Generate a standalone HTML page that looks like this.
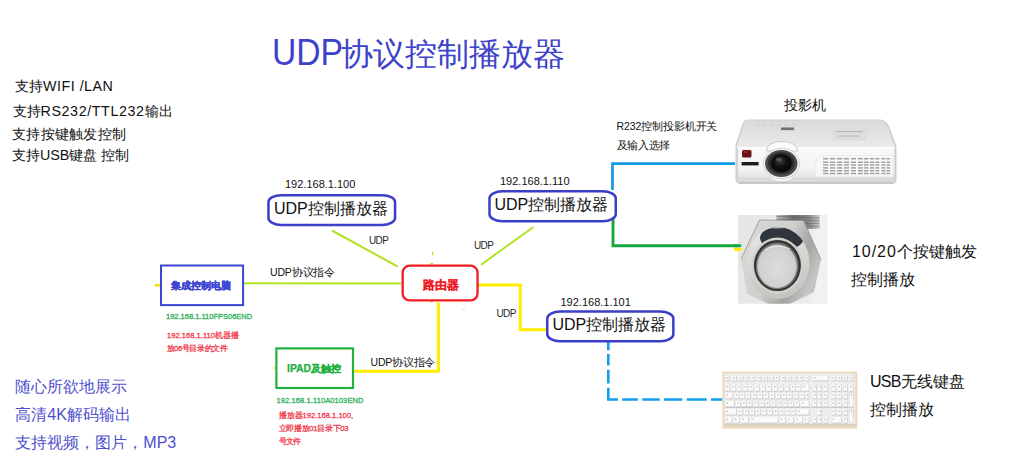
<!DOCTYPE html>
<html><head><meta charset="utf-8">
<style>
*{margin:0;padding:0;box-sizing:border-box}
html,body{width:1024px;height:459px;overflow:hidden;background:#fff}
body{position:relative;font-family:"Liberation Sans",sans-serif;color:#111}
.t{position:absolute;white-space:nowrap;line-height:1}
svg{position:absolute;left:0;top:0}
.sm{-webkit-text-stroke:0.3px currentColor}
</style></head><body>
<svg width="1024" height="459" viewBox="0 0 1024 459">
  <!-- connector lines -->
  <g fill="none" stroke-linecap="butt" stroke-linejoin="miter">
    <line x1="332" y1="230.5" x2="397.5" y2="266.5" stroke="#b0e322" stroke-width="2"/>
    <line x1="244" y1="283.2" x2="401" y2="283.6" stroke="#b0e322" stroke-width="2"/>
    <line x1="481" y1="264.7" x2="533.5" y2="227" stroke="#b0e322" stroke-width="2"/>
    <polyline points="478,285 520.3,285 520.3,329.7 547,329.7" stroke="#ffec00" stroke-width="3"/>
    <polyline points="354,371.2 438.4,371.2 438.4,302.5" stroke="#ffec00" stroke-width="3"/>
    <polyline points="612.5,190 612.5,163.6 735,163.6" stroke="#0f9be2" stroke-width="2.7"/>
    <polyline points="613,218 613,245.8 740,245.8" stroke="#16a83c" stroke-width="2.9"/>
    <path d="M608.3,342 V350.3 M608.3,354 V365.5 M608.3,369.8 V383.5 M608.3,387.7 V399.5 H618 M622.2,399.5 H637.9 M642.3,399.5 H659.7 M664,399.5 H682.3 M686.7,399.5 H706.7 M711,399.5 H722.5" stroke="#12a0ea" stroke-width="2.6"/>
  </g>
  <!-- small yellow ticks -->
  <rect x="155" y="284" width="5" height="2.6" fill="#f6e400"/>
  

  <!-- tiny connection dots -->
  <g fill="#b0e322">
    <rect x="432" y="251.8" width="1.3" height="3.4"/>
    <ellipse cx="431.8" cy="263.8" rx="1.5" ry="1.1"/>
    <ellipse cx="431.8" cy="301.8" rx="1.3" ry="0.9"/>
    <rect x="462.5" y="309" width="2.4" height="0.9" opacity="0.7"/>
    <ellipse cx="274.8" cy="368" rx="0.9" ry="1.1"/>
  </g>
  <!-- UDP boxes -->
  <rect x="268.45" y="195.15" width="126.6" height="29.8" rx="13" ry="7" fill="#fff" stroke="#3b3fc8" stroke-width="2.5"/>
  <rect x="489.5" y="191.35" width="126.25" height="29.8" rx="13" ry="7" fill="#fff" stroke="#3b3fc8" stroke-width="2.5"/>
  <rect x="547.25" y="311.5" width="126.1" height="29.75" rx="13" ry="7" fill="#fff" stroke="#3b3fc8" stroke-width="2.5"/>
  <!-- router -->
  <rect x="402.65" y="265.65" width="74.9" height="34.8" rx="7" ry="7" fill="#fff" stroke="#ee1c25" stroke-width="2.3"/>
  <!-- PC box -->
  <rect x="161" y="265.5" width="82.1" height="39.6" fill="#fff" stroke="#3c46d2" stroke-width="2"/>
  <!-- IPAD box -->
  <rect x="276.4" y="348.4" width="76.6" height="39.6" fill="#fff" stroke="#22b040" stroke-width="2.2"/>

  <!-- PROJECTOR -->
  <defs>
    <linearGradient id="pjTop" x1="0" y1="0" x2="0" y2="1">
      <stop offset="0" stop-color="#dadada"/><stop offset="0.5" stop-color="#e2e2e2"/><stop offset="1" stop-color="#ebebeb"/>
    </linearGradient>
    <linearGradient id="pjFront" x1="0" y1="0" x2="0" y2="1">
      <stop offset="0" stop-color="#fafafa"/><stop offset="0.7" stop-color="#f3f3f3"/><stop offset="1" stop-color="#e2e2e2"/>
    </linearGradient>
    <linearGradient id="pjSide" x1="0" y1="0" x2="1" y2="0">
      <stop offset="0" stop-color="#cfcfcf"/><stop offset="0.06" stop-color="#f2f2f2"/><stop offset="0.94" stop-color="#f2f2f2"/><stop offset="1" stop-color="#c8c8c8"/>
    </linearGradient>
    <radialGradient id="lensG" cx="0.45" cy="0.4" r="0.6">
      <stop offset="0" stop-color="#3a3a3a"/><stop offset="0.5" stop-color="#111"/><stop offset="1" stop-color="#050505"/>
    </radialGradient>
  </defs>
  <path d="M747,119.5 L880,119.5 Q886,120 889,126 L896.5,146 L896.5,181 Q896,184 892,184 L740,184 Q736,184 735.5,180 L735.5,145 L742,125 Q743.5,120 747,119.5 Z" fill="#d0d0d0"/>
  <path d="M748,120.5 L879,120.5 Q884.5,121 887.5,127 L895,147.5 L736.5,147.5 L743,126.5 Q744.5,121 748,120.5 Z" fill="url(#pjTop)"/>
  <rect x="736.5" y="147.5" width="159.5" height="31" fill="url(#pjSide)"/>
  <rect x="738" y="148" width="156.5" height="30" fill="url(#pjFront)" opacity="0.9"/>
  <rect x="737" y="147" width="158" height="1.3" fill="#fdfdfd"/>
  <rect x="737" y="177.5" width="158" height="5" fill="#dadada"/>
  <rect x="740" y="182" width="153" height="1.5" fill="#c4c4c4"/>
  <!-- top details -->
  <rect x="832.5" y="127" width="34" height="13.5" fill="#dedede"/>
  <rect x="836" y="131" width="27" height="1.2" fill="#b8b8b8"/>
  <rect x="838" y="135.5" width="22" height="1.2" fill="#bdbdbd"/>
  <rect x="781" y="127.5" width="13" height="2.6" fill="#555" opacity="0.8"/>
  <g fill="#c6c6c6"><circle cx="758" cy="125" r="0.9"/><circle cx="765" cy="125" r="0.9"/><circle cx="772" cy="125" r="0.9"/><circle cx="779" cy="125" r="0.9"/><circle cx="786" cy="125" r="0.9"/><circle cx="794" cy="125" r="0.9"/></g>
  <!-- lens collar -->
  <path d="M766,151 Q768,141.5 782,141.5 Q796,141.5 798,151 Z" fill="#fbfbfb" stroke="#bdbdbd" stroke-width="0.8"/>
  <path d="M769,176 Q772,181.5 782,181.5 Q792,181.5 794,176 Z" fill="#f6f6f6" stroke="#cfcfcf" stroke-width="0.6"/>
  <ellipse cx="781.5" cy="163.5" rx="18" ry="15.2" fill="#f4f4f4" stroke="#c8c8c8" stroke-width="0.8"/>
  <ellipse cx="781.3" cy="163.5" rx="16.2" ry="13.4" fill="#4a4a4a"/>
  <ellipse cx="781.3" cy="163.3" rx="13.3" ry="11" fill="#2c2c2c"/>
  <ellipse cx="781.3" cy="163.2" rx="10.5" ry="9.1" fill="url(#lensG)"/>
  <ellipse cx="779" cy="159.5" rx="3" ry="2" fill="#5a5a5a" opacity="0.8"/>
  <!-- red IR + label -->
  <rect x="742" y="150" width="9.5" height="7.5" rx="1.5" fill="#6c1212"/>
  <rect x="743.5" y="151" width="4" height="2" fill="#a03030" opacity="0.7"/>
  <rect x="741.6" y="162" width="17" height="3.4" fill="#1c1c1c"/>
  <!-- vent -->
  <path d="M815,177 L815,163 Q817,155.5 826,155.5 L893,155.5 L893,177 Z" fill="#f7f7f7" stroke="#e2e2e2" stroke-width="0.6"/>
  <g fill="#9c9c9c" id="vent">
    <rect x="823" y="158" width="5.3" height="1.4"/><rect x="830" y="158" width="5.3" height="1.4"/><rect x="837" y="158" width="5.3" height="1.4"/><rect x="844" y="158" width="5" height="1.4"/><rect x="851" y="158" width="5" height="1.4"/><rect x="858" y="158" width="4.8" height="1.4"/><rect x="864" y="158" width="4.5" height="1.4"/><rect x="870" y="158" width="4.3" height="1.4"/><rect x="875.5" y="158" width="3.8" height="1.4"/><rect x="881.5" y="158" width="3.8" height="1.4"/><rect x="886.5" y="158" width="3.6" height="1.4"/>
  </g>
  <use href="#vent" y="3.6"/>
  <use href="#vent" y="6.3"/>
  <use href="#vent" y="9.2"/>
  <use href="#vent" y="12"/>
  <use href="#vent" y="14.8"/>

  <!-- BUTTON -->
  <defs>
    <linearGradient id="btnBg" x1="0" y1="0" x2="1" y2="0">
      <stop offset="0" stop-color="#e6e6e6"/><stop offset="0.8" stop-color="#ebebeb"/><stop offset="0.88" stop-color="#f3f3f3"/><stop offset="1" stop-color="#efefef"/>
    </linearGradient>
    <linearGradient id="nutG" x1="0" y1="0" x2="1" y2="0.5">
      <stop offset="0" stop-color="#b4b4b4"/><stop offset="0.2" stop-color="#d6d6d4"/><stop offset="0.55" stop-color="#cfcfcc"/><stop offset="0.8" stop-color="#a4a4a4"/><stop offset="1" stop-color="#c4c4c4"/>
    </linearGradient>
    <linearGradient id="bezG" x1="0" y1="0" x2="0.2" y2="1">
      <stop offset="0" stop-color="#e8e8e6"/><stop offset="0.5" stop-color="#d8d7d2"/><stop offset="1" stop-color="#c6c5c0"/>
    </linearGradient>
    <radialGradient id="faceG" cx="0.5" cy="0.55" r="0.6">
      <stop offset="0" stop-color="#dcdcdc"/><stop offset="0.7" stop-color="#d2d2d2"/><stop offset="1" stop-color="#bdbdbd"/>
    </radialGradient>
    <linearGradient id="thrG" x1="0" y1="0" x2="1" y2="0">
      <stop offset="0" stop-color="#c0c0c0"/><stop offset="0.4" stop-color="#6e6e6e"/><stop offset="0.75" stop-color="#8a8a8a"/><stop offset="1" stop-color="#d0d0d0"/>
    </linearGradient>
    <clipPath id="bezClip"><ellipse cx="778" cy="263" rx="31.5" ry="36"/></clipPath>
  </defs>
  <rect x="738" y="215" width="89.5" height="88.7" fill="url(#btnBg)"/>
  <rect x="776" y="215" width="44" height="14" fill="url(#thrG)"/>
  <g stroke="#555" stroke-width="0.7" opacity="0.7"><line x1="777" y1="216.5" x2="819" y2="218"/><line x1="777" y1="219.3" x2="819" y2="220.8"/><line x1="777" y1="222.1" x2="819" y2="223.6"/><line x1="777" y1="224.9" x2="819" y2="226.4"/></g>
  <path d="M759.5,220 L803.6,220.5 L821,259.5 L814,292 L790,303.7 L768,303.7 L747.3,294 L741,259 Z" fill="url(#nutG)"/>
  <path d="M741,259 L759.5,220 L803.6,220.5 L821,259.5" fill="none" stroke="#8c8c8c" stroke-width="0.7"/>
    <ellipse cx="778" cy="263" rx="31.5" ry="36" fill="url(#bezG)"/>
  <g clip-path="url(#bezClip)">
    <ellipse cx="782" cy="238" rx="22" ry="12" fill="#262a33" opacity="0.95"/>
    <ellipse cx="776" cy="226" rx="16" ry="2.5" fill="#f0f0f0" opacity="0.7"/>
  </g>
  <ellipse cx="777.4" cy="265.8" rx="26" ry="28.2" fill="#cfcfcc"/>
  <ellipse cx="777.4" cy="265.5" rx="23.5" ry="25.6" fill="#333"/>
  <ellipse cx="777.2" cy="265.9" rx="21.3" ry="23.3" fill="#777"/>
  <ellipse cx="777" cy="266.2" rx="19.8" ry="21.7" fill="url(#faceG)"/>
  <path d="M765,250 Q777,243 790,249" fill="none" stroke="#f4f4f4" stroke-width="1.2" opacity="0.8"/>
  <!-- KEYBOARD -->
  <rect x="722.4" y="371.6" width="134.9" height="57" fill="#ead9b9"/>
  <rect x="724.4" y="373.4" width="130.9" height="52.6" fill="#eeeeee"/>
  <rect x="724.4" y="424" width="130.9" height="2" fill="#d8d0c0"/>
  <rect x="725.4" y="375.6" width="4.1" height="5.9" fill="#d0d0d0"/>
  <rect x="725.4" y="375.6" width="3.3" height="4.7" fill="#fbfbfb"/>
  <rect x="732.1" y="375.6" width="4.9" height="5.9" fill="#d0d0d0"/>
  <rect x="732.1" y="375.6" width="4.1" height="4.7" fill="#fbfbfb"/>
  <rect x="738.7" y="375.6" width="4.9" height="5.9" fill="#d0d0d0"/>
  <rect x="738.7" y="375.6" width="4.1" height="4.7" fill="#fbfbfb"/>
  <rect x="744.7" y="375.6" width="4.4" height="5.9" fill="#d0d0d0"/>
  <rect x="744.7" y="375.6" width="3.6" height="4.7" fill="#fbfbfb"/>
  <rect x="750.9" y="375.6" width="4.6" height="5.9" fill="#d0d0d0"/>
  <rect x="750.9" y="375.6" width="3.8" height="4.7" fill="#fbfbfb"/>
  <rect x="756.8" y="375.6" width="4.6" height="5.9" fill="#d0d0d0"/>
  <rect x="756.8" y="375.6" width="3.8" height="4.7" fill="#fbfbfb"/>
  <rect x="762.7" y="375.6" width="5.0" height="5.9" fill="#d0d0d0"/>
  <rect x="762.7" y="375.6" width="4.2" height="4.7" fill="#fbfbfb"/>
  <rect x="768.7" y="375.6" width="5.0" height="5.9" fill="#d0d0d0"/>
  <rect x="768.7" y="375.6" width="4.2" height="4.7" fill="#fbfbfb"/>
  <rect x="774.6" y="375.6" width="5.0" height="5.9" fill="#d0d0d0"/>
  <rect x="774.6" y="375.6" width="4.2" height="4.7" fill="#fbfbfb"/>
  <rect x="781.0" y="375.6" width="4.6" height="5.9" fill="#d0d0d0"/>
  <rect x="781.0" y="375.6" width="3.8" height="4.7" fill="#fbfbfb"/>
  <rect x="786.9" y="375.6" width="4.6" height="5.9" fill="#d0d0d0"/>
  <rect x="786.9" y="375.6" width="3.8" height="4.7" fill="#fbfbfb"/>
  <rect x="792.8" y="375.6" width="4.6" height="5.9" fill="#d0d0d0"/>
  <rect x="792.8" y="375.6" width="3.8" height="4.7" fill="#fbfbfb"/>
  <rect x="798.7" y="375.6" width="4.6" height="5.9" fill="#d0d0d0"/>
  <rect x="798.7" y="375.6" width="3.8" height="4.7" fill="#fbfbfb"/>
  <rect x="804.7" y="375.6" width="4.9" height="5.9" fill="#d0d0d0"/>
  <rect x="804.7" y="375.6" width="4.1" height="4.7" fill="#fbfbfb"/>
  <rect x="812.8" y="375.6" width="15.7" height="5.9" fill="#d0d0d0"/>
  <rect x="812.8" y="375.6" width="14.9" height="4.7" fill="#fbfbfb"/>
  <rect x="831.3" y="375.6" width="4.9" height="5.9" fill="#d0d0d0"/>
  <rect x="831.3" y="375.6" width="4.1" height="4.7" fill="#fbfbfb"/>
  <rect x="837.3" y="375.6" width="4.6" height="5.9" fill="#d0d0d0"/>
  <rect x="837.3" y="375.6" width="3.8" height="4.7" fill="#fbfbfb"/>
  <rect x="843.2" y="375.6" width="4.6" height="5.9" fill="#d0d0d0"/>
  <rect x="843.2" y="375.6" width="3.8" height="4.7" fill="#fbfbfb"/>
  <rect x="849.1" y="375.6" width="4.6" height="5.9" fill="#d0d0d0"/>
  <rect x="849.1" y="375.6" width="3.8" height="4.7" fill="#fbfbfb"/>
  <rect x="725.4" y="384.5" width="4.9" height="7.4" fill="#d0d0d0"/>
  <rect x="725.4" y="384.5" width="4.1" height="6.2" fill="#fbfbfb"/>
  <rect x="731.3" y="384.5" width="4.9" height="7.4" fill="#d0d0d0"/>
  <rect x="731.3" y="384.5" width="4.1" height="6.2" fill="#fbfbfb"/>
  <rect x="737.3" y="384.5" width="4.9" height="7.4" fill="#d0d0d0"/>
  <rect x="737.3" y="384.5" width="4.1" height="6.2" fill="#fbfbfb"/>
  <rect x="743.2" y="384.5" width="4.9" height="7.4" fill="#d0d0d0"/>
  <rect x="743.2" y="384.5" width="4.1" height="6.2" fill="#fbfbfb"/>
  <rect x="749.1" y="384.5" width="4.9" height="7.4" fill="#d0d0d0"/>
  <rect x="749.1" y="384.5" width="4.1" height="6.2" fill="#fbfbfb"/>
  <rect x="755.0" y="384.5" width="4.9" height="7.4" fill="#d0d0d0"/>
  <rect x="755.0" y="384.5" width="4.1" height="6.2" fill="#fbfbfb"/>
  <rect x="761.0" y="384.5" width="4.9" height="7.4" fill="#d0d0d0"/>
  <rect x="761.0" y="384.5" width="4.1" height="6.2" fill="#fbfbfb"/>
  <rect x="766.9" y="384.5" width="4.9" height="7.4" fill="#d0d0d0"/>
  <rect x="766.9" y="384.5" width="4.1" height="6.2" fill="#fbfbfb"/>
  <rect x="772.8" y="384.5" width="4.9" height="7.4" fill="#d0d0d0"/>
  <rect x="772.8" y="384.5" width="4.1" height="6.2" fill="#fbfbfb"/>
  <rect x="778.7" y="384.5" width="4.9" height="7.4" fill="#d0d0d0"/>
  <rect x="778.7" y="384.5" width="4.1" height="6.2" fill="#fbfbfb"/>
  <rect x="784.7" y="384.5" width="4.9" height="7.4" fill="#d0d0d0"/>
  <rect x="784.7" y="384.5" width="4.1" height="6.2" fill="#fbfbfb"/>
  <rect x="790.6" y="384.5" width="4.9" height="7.4" fill="#d0d0d0"/>
  <rect x="790.6" y="384.5" width="4.1" height="6.2" fill="#fbfbfb"/>
  <rect x="796.5" y="384.5" width="4.9" height="7.4" fill="#d0d0d0"/>
  <rect x="796.5" y="384.5" width="4.1" height="6.2" fill="#fbfbfb"/>
  <rect x="802.4" y="384.5" width="7.1" height="7.4" fill="#d0d0d0"/>
  <rect x="802.4" y="384.5" width="6.3" height="6.2" fill="#fbfbfb"/>
  <rect x="812.8" y="384.5" width="4.1" height="7.4" fill="#d0d0d0"/>
  <rect x="812.8" y="384.5" width="3.3" height="6.2" fill="#fbfbfb"/>
  <rect x="818.0" y="384.5" width="4.1" height="7.4" fill="#d0d0d0"/>
  <rect x="818.0" y="384.5" width="3.3" height="6.2" fill="#fbfbfb"/>
  <rect x="823.2" y="384.5" width="4.9" height="7.4" fill="#d0d0d0"/>
  <rect x="823.2" y="384.5" width="4.1" height="6.2" fill="#fbfbfb"/>
  <rect x="831.3" y="384.5" width="4.9" height="7.4" fill="#d0d0d0"/>
  <rect x="831.3" y="384.5" width="4.1" height="6.2" fill="#fbfbfb"/>
  <rect x="837.3" y="384.5" width="4.6" height="7.4" fill="#d0d0d0"/>
  <rect x="837.3" y="384.5" width="3.8" height="6.2" fill="#fbfbfb"/>
  <rect x="843.2" y="384.5" width="4.6" height="7.4" fill="#d0d0d0"/>
  <rect x="843.2" y="384.5" width="3.8" height="6.2" fill="#fbfbfb"/>
  <rect x="849.1" y="384.5" width="4.6" height="7.4" fill="#d0d0d0"/>
  <rect x="849.1" y="384.5" width="3.8" height="6.2" fill="#fbfbfb"/>
  <rect x="725.4" y="392.7" width="7.8" height="6.7" fill="#d0d0d0"/>
  <rect x="725.4" y="392.7" width="7.0" height="5.5" fill="#fbfbfb"/>
  <rect x="734.3" y="392.7" width="4.9" height="6.7" fill="#d0d0d0"/>
  <rect x="734.3" y="392.7" width="4.1" height="5.5" fill="#fbfbfb"/>
  <rect x="740.2" y="392.7" width="4.9" height="6.7" fill="#d0d0d0"/>
  <rect x="740.2" y="392.7" width="4.1" height="5.5" fill="#fbfbfb"/>
  <rect x="746.1" y="392.7" width="4.9" height="6.7" fill="#d0d0d0"/>
  <rect x="746.1" y="392.7" width="4.1" height="5.5" fill="#fbfbfb"/>
  <rect x="752.1" y="392.7" width="4.9" height="6.7" fill="#d0d0d0"/>
  <rect x="752.1" y="392.7" width="4.1" height="5.5" fill="#fbfbfb"/>
  <rect x="758.0" y="392.7" width="4.9" height="6.7" fill="#d0d0d0"/>
  <rect x="758.0" y="392.7" width="4.1" height="5.5" fill="#fbfbfb"/>
  <rect x="763.9" y="392.7" width="4.9" height="6.7" fill="#d0d0d0"/>
  <rect x="763.9" y="392.7" width="4.1" height="5.5" fill="#fbfbfb"/>
  <rect x="769.9" y="392.7" width="4.9" height="6.7" fill="#d0d0d0"/>
  <rect x="769.9" y="392.7" width="4.1" height="5.5" fill="#fbfbfb"/>
  <rect x="775.8" y="392.7" width="4.9" height="6.7" fill="#d0d0d0"/>
  <rect x="775.8" y="392.7" width="4.1" height="5.5" fill="#fbfbfb"/>
  <rect x="781.7" y="392.7" width="4.9" height="6.7" fill="#d0d0d0"/>
  <rect x="781.7" y="392.7" width="4.1" height="5.5" fill="#fbfbfb"/>
  <rect x="787.6" y="392.7" width="4.9" height="6.7" fill="#d0d0d0"/>
  <rect x="787.6" y="392.7" width="4.1" height="5.5" fill="#fbfbfb"/>
  <rect x="793.6" y="392.7" width="4.9" height="6.7" fill="#d0d0d0"/>
  <rect x="793.6" y="392.7" width="4.1" height="5.5" fill="#fbfbfb"/>
  <rect x="799.5" y="392.7" width="4.9" height="6.7" fill="#d0d0d0"/>
  <rect x="799.5" y="392.7" width="4.1" height="5.5" fill="#fbfbfb"/>
  <rect x="805.4" y="392.7" width="4.1" height="6.7" fill="#d0d0d0"/>
  <rect x="805.4" y="392.7" width="3.3" height="5.5" fill="#fbfbfb"/>
  <rect x="812.8" y="392.7" width="4.1" height="6.7" fill="#d0d0d0"/>
  <rect x="812.8" y="392.7" width="3.3" height="5.5" fill="#fbfbfb"/>
  <rect x="818.0" y="392.7" width="4.1" height="6.7" fill="#d0d0d0"/>
  <rect x="818.0" y="392.7" width="3.3" height="5.5" fill="#fbfbfb"/>
  <rect x="823.2" y="392.7" width="4.9" height="6.7" fill="#d0d0d0"/>
  <rect x="823.2" y="392.7" width="4.1" height="5.5" fill="#fbfbfb"/>
  <rect x="831.3" y="392.7" width="4.9" height="6.7" fill="#d0d0d0"/>
  <rect x="831.3" y="392.7" width="4.1" height="5.5" fill="#fbfbfb"/>
  <rect x="837.3" y="392.7" width="4.6" height="6.7" fill="#d0d0d0"/>
  <rect x="837.3" y="392.7" width="3.8" height="5.5" fill="#fbfbfb"/>
  <rect x="843.2" y="392.7" width="4.6" height="6.7" fill="#d0d0d0"/>
  <rect x="843.2" y="392.7" width="3.8" height="5.5" fill="#fbfbfb"/>
  <rect x="849.1" y="392.7" width="4.6" height="6.7" fill="#d0d0d0"/>
  <rect x="849.1" y="392.7" width="3.8" height="5.5" fill="#fbfbfb"/>
  <rect x="725.4" y="400.8" width="9.3" height="6.7" fill="#d0d0d0"/>
  <rect x="725.4" y="400.8" width="8.5" height="5.5" fill="#fbfbfb"/>
  <rect x="735.8" y="400.8" width="4.9" height="6.7" fill="#d0d0d0"/>
  <rect x="735.8" y="400.8" width="4.1" height="5.5" fill="#fbfbfb"/>
  <rect x="741.7" y="400.8" width="4.9" height="6.7" fill="#d0d0d0"/>
  <rect x="741.7" y="400.8" width="4.1" height="5.5" fill="#fbfbfb"/>
  <rect x="747.6" y="400.8" width="4.9" height="6.7" fill="#d0d0d0"/>
  <rect x="747.6" y="400.8" width="4.1" height="5.5" fill="#fbfbfb"/>
  <rect x="753.6" y="400.8" width="4.9" height="6.7" fill="#d0d0d0"/>
  <rect x="753.6" y="400.8" width="4.1" height="5.5" fill="#fbfbfb"/>
  <rect x="759.5" y="400.8" width="4.9" height="6.7" fill="#d0d0d0"/>
  <rect x="759.5" y="400.8" width="4.1" height="5.5" fill="#fbfbfb"/>
  <rect x="765.4" y="400.8" width="4.9" height="6.7" fill="#d0d0d0"/>
  <rect x="765.4" y="400.8" width="4.1" height="5.5" fill="#fbfbfb"/>
  <rect x="771.3" y="400.8" width="4.9" height="6.7" fill="#d0d0d0"/>
  <rect x="771.3" y="400.8" width="4.1" height="5.5" fill="#fbfbfb"/>
  <rect x="777.3" y="400.8" width="4.9" height="6.7" fill="#d0d0d0"/>
  <rect x="777.3" y="400.8" width="4.1" height="5.5" fill="#fbfbfb"/>
  <rect x="783.2" y="400.8" width="4.9" height="6.7" fill="#d0d0d0"/>
  <rect x="783.2" y="400.8" width="4.1" height="5.5" fill="#fbfbfb"/>
  <rect x="789.1" y="400.8" width="4.9" height="6.7" fill="#d0d0d0"/>
  <rect x="789.1" y="400.8" width="4.1" height="5.5" fill="#fbfbfb"/>
  <rect x="795.0" y="400.8" width="4.9" height="6.7" fill="#d0d0d0"/>
  <rect x="795.0" y="400.8" width="4.1" height="5.5" fill="#fbfbfb"/>
  <rect x="801.0" y="400.8" width="8.6" height="6.7" fill="#d0d0d0"/>
  <rect x="801.0" y="400.8" width="7.8" height="5.5" fill="#fbfbfb"/>
  <rect x="812.8" y="400.8" width="4.1" height="6.7" fill="#d0d0d0"/>
  <rect x="812.8" y="400.8" width="3.3" height="5.5" fill="#fbfbfb"/>
  <rect x="818.0" y="400.8" width="4.1" height="6.7" fill="#d0d0d0"/>
  <rect x="818.0" y="400.8" width="3.3" height="5.5" fill="#fbfbfb"/>
  <rect x="823.2" y="400.8" width="4.9" height="6.7" fill="#d0d0d0"/>
  <rect x="823.2" y="400.8" width="4.1" height="5.5" fill="#fbfbfb"/>
  <rect x="831.3" y="400.8" width="4.9" height="6.7" fill="#d0d0d0"/>
  <rect x="831.3" y="400.8" width="4.1" height="5.5" fill="#fbfbfb"/>
  <rect x="837.3" y="400.8" width="4.6" height="6.7" fill="#d0d0d0"/>
  <rect x="837.3" y="400.8" width="3.8" height="5.5" fill="#fbfbfb"/>
  <rect x="843.2" y="400.8" width="4.6" height="6.7" fill="#d0d0d0"/>
  <rect x="843.2" y="400.8" width="3.8" height="5.5" fill="#fbfbfb"/>
  <rect x="725.4" y="409.0" width="11.6" height="6.7" fill="#d0d0d0"/>
  <rect x="725.4" y="409.0" width="10.8" height="5.5" fill="#fbfbfb"/>
  <rect x="738.0" y="409.0" width="4.9" height="6.7" fill="#d0d0d0"/>
  <rect x="738.0" y="409.0" width="4.1" height="5.5" fill="#fbfbfb"/>
  <rect x="743.9" y="409.0" width="4.9" height="6.7" fill="#d0d0d0"/>
  <rect x="743.9" y="409.0" width="4.1" height="5.5" fill="#fbfbfb"/>
  <rect x="749.9" y="409.0" width="4.9" height="6.7" fill="#d0d0d0"/>
  <rect x="749.9" y="409.0" width="4.1" height="5.5" fill="#fbfbfb"/>
  <rect x="755.8" y="409.0" width="4.9" height="6.7" fill="#d0d0d0"/>
  <rect x="755.8" y="409.0" width="4.1" height="5.5" fill="#fbfbfb"/>
  <rect x="761.7" y="409.0" width="4.9" height="6.7" fill="#d0d0d0"/>
  <rect x="761.7" y="409.0" width="4.1" height="5.5" fill="#fbfbfb"/>
  <rect x="767.6" y="409.0" width="4.9" height="6.7" fill="#d0d0d0"/>
  <rect x="767.6" y="409.0" width="4.1" height="5.5" fill="#fbfbfb"/>
  <rect x="773.6" y="409.0" width="4.9" height="6.7" fill="#d0d0d0"/>
  <rect x="773.6" y="409.0" width="4.1" height="5.5" fill="#fbfbfb"/>
  <rect x="779.5" y="409.0" width="4.9" height="6.7" fill="#d0d0d0"/>
  <rect x="779.5" y="409.0" width="4.1" height="5.5" fill="#fbfbfb"/>
  <rect x="785.4" y="409.0" width="4.9" height="6.7" fill="#d0d0d0"/>
  <rect x="785.4" y="409.0" width="4.1" height="5.5" fill="#fbfbfb"/>
  <rect x="791.3" y="409.0" width="4.9" height="6.7" fill="#d0d0d0"/>
  <rect x="791.3" y="409.0" width="4.1" height="5.5" fill="#fbfbfb"/>
  <rect x="797.3" y="409.0" width="12.3" height="6.7" fill="#d0d0d0"/>
  <rect x="797.3" y="409.0" width="11.5" height="5.5" fill="#fbfbfb"/>
  <rect x="818.0" y="409.0" width="4.1" height="6.7" fill="#d0d0d0"/>
  <rect x="818.0" y="409.0" width="3.3" height="5.5" fill="#fbfbfb"/>
  <rect x="831.3" y="409.0" width="4.9" height="6.7" fill="#d0d0d0"/>
  <rect x="831.3" y="409.0" width="4.1" height="5.5" fill="#fbfbfb"/>
  <rect x="837.3" y="409.0" width="4.6" height="6.7" fill="#d0d0d0"/>
  <rect x="837.3" y="409.0" width="3.8" height="5.5" fill="#fbfbfb"/>
  <rect x="843.2" y="409.0" width="4.6" height="6.7" fill="#d0d0d0"/>
  <rect x="843.2" y="409.0" width="3.8" height="5.5" fill="#fbfbfb"/>
  <rect x="849.1" y="409.0" width="4.6" height="6.7" fill="#d0d0d0"/>
  <rect x="849.1" y="409.0" width="3.8" height="5.5" fill="#fbfbfb"/>
  <rect x="725.4" y="417.1" width="7.1" height="6.7" fill="#d0d0d0"/>
  <rect x="725.4" y="417.1" width="6.3" height="5.5" fill="#fbfbfb"/>
  <rect x="733.6" y="417.1" width="6.4" height="6.7" fill="#d0d0d0"/>
  <rect x="733.6" y="417.1" width="5.6" height="5.5" fill="#fbfbfb"/>
  <rect x="741.0" y="417.1" width="7.8" height="6.7" fill="#d0d0d0"/>
  <rect x="741.0" y="417.1" width="7.0" height="5.5" fill="#fbfbfb"/>
  <rect x="749.9" y="417.1" width="28.6" height="6.7" fill="#d0d0d0"/>
  <rect x="749.9" y="417.1" width="27.8" height="5.5" fill="#fbfbfb"/>
  <rect x="779.5" y="417.1" width="6.4" height="6.7" fill="#d0d0d0"/>
  <rect x="779.5" y="417.1" width="5.6" height="5.5" fill="#fbfbfb"/>
  <rect x="786.9" y="417.1" width="7.1" height="6.7" fill="#d0d0d0"/>
  <rect x="786.9" y="417.1" width="6.3" height="5.5" fill="#fbfbfb"/>
  <rect x="795.0" y="417.1" width="7.8" height="6.7" fill="#d0d0d0"/>
  <rect x="795.0" y="417.1" width="7.0" height="5.5" fill="#fbfbfb"/>
  <rect x="803.9" y="417.1" width="5.6" height="6.7" fill="#d0d0d0"/>
  <rect x="803.9" y="417.1" width="4.8" height="5.5" fill="#fbfbfb"/>
  <rect x="812.8" y="417.1" width="4.1" height="6.7" fill="#d0d0d0"/>
  <rect x="812.8" y="417.1" width="3.3" height="5.5" fill="#fbfbfb"/>
  <rect x="818.0" y="417.1" width="4.1" height="6.7" fill="#d0d0d0"/>
  <rect x="818.0" y="417.1" width="3.3" height="5.5" fill="#fbfbfb"/>
  <rect x="823.2" y="417.1" width="4.9" height="6.7" fill="#d0d0d0"/>
  <rect x="823.2" y="417.1" width="4.1" height="5.5" fill="#fbfbfb"/>
  <rect x="831.3" y="417.1" width="10.5" height="6.7" fill="#d0d0d0"/>
  <rect x="831.3" y="417.1" width="9.7" height="5.5" fill="#fbfbfb"/>
  <rect x="843.2" y="417.1" width="4.6" height="6.7" fill="#d0d0d0"/>
  <rect x="843.2" y="417.1" width="3.8" height="5.5" fill="#fbfbfb"/>
  <rect x="849.1" y="392.7" width="3.9" height="13.8" fill="#fbfbfb" stroke="#d0d0d0" stroke-width="0.5"/>
  <rect x="849.1" y="409.0" width="3.9" height="13.8" fill="#fbfbfb" stroke="#d0d0d0" stroke-width="0.5"/>
  <rect x="725.4" y="407.2" width="128.6" height="0.6" fill="#9a9a9a" opacity="0.6"/>

  <g><rect x="726.8" y="377.2" width="1.3" height="1.3" fill="#7a7a7a" opacity="0.55"/><rect x="733.5" y="377.2" width="1.3" height="1.3" fill="#7a7a7a" opacity="0.55"/><rect x="740.1" y="377.2" width="1.3" height="1.3" fill="#7a7a7a" opacity="0.55"/><rect x="746.1" y="377.2" width="1.3" height="1.3" fill="#7a7a7a" opacity="0.55"/><rect x="752.3" y="377.2" width="1.3" height="1.3" fill="#7a7a7a" opacity="0.55"/><rect x="758.2" y="377.2" width="1.3" height="1.3" fill="#7a7a7a" opacity="0.55"/><rect x="764.1" y="377.2" width="1.3" height="1.3" fill="#7a7a7a" opacity="0.55"/><rect x="770.1" y="377.2" width="1.3" height="1.3" fill="#7a7a7a" opacity="0.55"/><rect x="776.0" y="377.2" width="1.3" height="1.3" fill="#7a7a7a" opacity="0.55"/><rect x="782.4" y="377.2" width="1.3" height="1.3" fill="#7a7a7a" opacity="0.55"/><rect x="788.3" y="377.2" width="1.3" height="1.3" fill="#7a7a7a" opacity="0.55"/><rect x="794.2" y="377.2" width="1.3" height="1.3" fill="#7a7a7a" opacity="0.55"/><rect x="800.1" y="377.2" width="1.3" height="1.3" fill="#7a7a7a" opacity="0.55"/><rect x="806.1" y="377.2" width="1.3" height="1.3" fill="#7a7a7a" opacity="0.55"/><rect x="814.2" y="377.2" width="2.2" height="1" fill="#7a7a7a" opacity="0.5"/><rect x="832.7" y="377.2" width="1.3" height="1.3" fill="#7a7a7a" opacity="0.55"/><rect x="838.7" y="377.2" width="1.3" height="1.3" fill="#7a7a7a" opacity="0.55"/><rect x="844.6" y="377.2" width="1.3" height="1.3" fill="#7a7a7a" opacity="0.55"/><rect x="850.5" y="377.2" width="1.3" height="1.3" fill="#7a7a7a" opacity="0.55"/><rect x="726.8" y="386.1" width="1.3" height="1.3" fill="#7a7a7a" opacity="0.55"/><rect x="732.7" y="386.1" width="1.3" height="1.3" fill="#7a7a7a" opacity="0.55"/><rect x="738.7" y="386.1" width="1.3" height="1.3" fill="#7a7a7a" opacity="0.55"/><rect x="744.6" y="386.1" width="1.3" height="1.3" fill="#7a7a7a" opacity="0.55"/><rect x="750.5" y="386.1" width="1.3" height="1.3" fill="#7a7a7a" opacity="0.55"/><rect x="756.4" y="386.1" width="1.3" height="1.3" fill="#7a7a7a" opacity="0.55"/><rect x="762.4" y="386.1" width="1.3" height="1.3" fill="#7a7a7a" opacity="0.55"/><rect x="768.3" y="386.1" width="1.3" height="1.3" fill="#7a7a7a" opacity="0.55"/><rect x="774.2" y="386.1" width="1.3" height="1.3" fill="#7a7a7a" opacity="0.55"/><rect x="780.1" y="386.1" width="1.3" height="1.3" fill="#7a7a7a" opacity="0.55"/><rect x="786.1" y="386.1" width="1.3" height="1.3" fill="#7a7a7a" opacity="0.55"/><rect x="792.0" y="386.1" width="1.3" height="1.3" fill="#7a7a7a" opacity="0.55"/><rect x="797.9" y="386.1" width="1.3" height="1.3" fill="#7a7a7a" opacity="0.55"/><rect x="803.8" y="386.1" width="1.3" height="1.3" fill="#7a7a7a" opacity="0.55"/><rect x="814.2" y="386.1" width="1.3" height="1.3" fill="#7a7a7a" opacity="0.55"/><rect x="819.4" y="386.1" width="1.3" height="1.3" fill="#7a7a7a" opacity="0.55"/><rect x="824.6" y="386.1" width="1.3" height="1.3" fill="#7a7a7a" opacity="0.55"/><rect x="832.7" y="386.1" width="1.3" height="1.3" fill="#7a7a7a" opacity="0.55"/><rect x="838.7" y="386.1" width="1.3" height="1.3" fill="#7a7a7a" opacity="0.55"/><rect x="844.6" y="386.1" width="1.3" height="1.3" fill="#7a7a7a" opacity="0.55"/><rect x="850.5" y="386.1" width="1.3" height="1.3" fill="#7a7a7a" opacity="0.55"/><rect x="726.8" y="394.3" width="1.3" height="1.3" fill="#7a7a7a" opacity="0.55"/><rect x="735.7" y="394.3" width="1.3" height="1.3" fill="#7a7a7a" opacity="0.55"/><rect x="741.6" y="394.3" width="1.3" height="1.3" fill="#7a7a7a" opacity="0.55"/><rect x="747.5" y="394.3" width="1.3" height="1.3" fill="#7a7a7a" opacity="0.55"/><rect x="753.5" y="394.3" width="1.3" height="1.3" fill="#7a7a7a" opacity="0.55"/><rect x="759.4" y="394.3" width="1.3" height="1.3" fill="#7a7a7a" opacity="0.55"/><rect x="765.3" y="394.3" width="1.3" height="1.3" fill="#7a7a7a" opacity="0.55"/><rect x="771.3" y="394.3" width="1.3" height="1.3" fill="#7a7a7a" opacity="0.55"/><rect x="777.2" y="394.3" width="1.3" height="1.3" fill="#7a7a7a" opacity="0.55"/><rect x="783.1" y="394.3" width="1.3" height="1.3" fill="#7a7a7a" opacity="0.55"/><rect x="789.0" y="394.3" width="1.3" height="1.3" fill="#7a7a7a" opacity="0.55"/><rect x="795.0" y="394.3" width="1.3" height="1.3" fill="#7a7a7a" opacity="0.55"/><rect x="800.9" y="394.3" width="1.3" height="1.3" fill="#7a7a7a" opacity="0.55"/><rect x="806.8" y="394.3" width="1.3" height="1.3" fill="#7a7a7a" opacity="0.55"/><rect x="814.2" y="394.3" width="1.3" height="1.3" fill="#7a7a7a" opacity="0.55"/><rect x="819.4" y="394.3" width="1.3" height="1.3" fill="#7a7a7a" opacity="0.55"/><rect x="824.6" y="394.3" width="1.3" height="1.3" fill="#7a7a7a" opacity="0.55"/><rect x="832.7" y="394.3" width="1.3" height="1.3" fill="#7a7a7a" opacity="0.55"/><rect x="838.7" y="394.3" width="1.3" height="1.3" fill="#7a7a7a" opacity="0.55"/><rect x="844.6" y="394.3" width="1.3" height="1.3" fill="#7a7a7a" opacity="0.55"/><rect x="850.5" y="394.3" width="1.3" height="1.3" fill="#7a7a7a" opacity="0.55"/><rect x="726.8" y="402.4" width="1.3" height="1.3" fill="#7a7a7a" opacity="0.55"/><rect x="737.2" y="402.4" width="1.3" height="1.3" fill="#7a7a7a" opacity="0.55"/><rect x="743.1" y="402.4" width="1.3" height="1.3" fill="#7a7a7a" opacity="0.55"/><rect x="749.0" y="402.4" width="1.3" height="1.3" fill="#7a7a7a" opacity="0.55"/><rect x="755.0" y="402.4" width="1.3" height="1.3" fill="#7a7a7a" opacity="0.55"/><rect x="760.9" y="402.4" width="1.3" height="1.3" fill="#7a7a7a" opacity="0.55"/><rect x="766.8" y="402.4" width="1.3" height="1.3" fill="#7a7a7a" opacity="0.55"/><rect x="772.7" y="402.4" width="1.3" height="1.3" fill="#7a7a7a" opacity="0.55"/><rect x="778.7" y="402.4" width="1.3" height="1.3" fill="#7a7a7a" opacity="0.55"/><rect x="784.6" y="402.4" width="1.3" height="1.3" fill="#7a7a7a" opacity="0.55"/><rect x="790.5" y="402.4" width="1.3" height="1.3" fill="#7a7a7a" opacity="0.55"/><rect x="796.4" y="402.4" width="1.3" height="1.3" fill="#7a7a7a" opacity="0.55"/><rect x="802.4" y="402.4" width="1.3" height="1.3" fill="#7a7a7a" opacity="0.55"/><rect x="814.2" y="402.4" width="1.3" height="1.3" fill="#7a7a7a" opacity="0.55"/><rect x="819.4" y="402.4" width="1.3" height="1.3" fill="#7a7a7a" opacity="0.55"/><rect x="824.6" y="402.4" width="1.3" height="1.3" fill="#7a7a7a" opacity="0.55"/><rect x="832.7" y="402.4" width="1.3" height="1.3" fill="#7a7a7a" opacity="0.55"/><rect x="838.7" y="402.4" width="1.3" height="1.3" fill="#7a7a7a" opacity="0.55"/><rect x="844.6" y="402.4" width="1.3" height="1.3" fill="#7a7a7a" opacity="0.55"/><rect x="726.8" y="410.6" width="1.3" height="1.3" fill="#7a7a7a" opacity="0.55"/><rect x="739.4" y="410.6" width="1.3" height="1.3" fill="#7a7a7a" opacity="0.55"/><rect x="745.3" y="410.6" width="1.3" height="1.3" fill="#7a7a7a" opacity="0.55"/><rect x="751.3" y="410.6" width="1.3" height="1.3" fill="#7a7a7a" opacity="0.55"/><rect x="757.2" y="410.6" width="1.3" height="1.3" fill="#7a7a7a" opacity="0.55"/><rect x="763.1" y="410.6" width="1.3" height="1.3" fill="#7a7a7a" opacity="0.55"/><rect x="769.0" y="410.6" width="1.3" height="1.3" fill="#7a7a7a" opacity="0.55"/><rect x="775.0" y="410.6" width="1.3" height="1.3" fill="#7a7a7a" opacity="0.55"/><rect x="780.9" y="410.6" width="1.3" height="1.3" fill="#7a7a7a" opacity="0.55"/><rect x="786.8" y="410.6" width="1.3" height="1.3" fill="#7a7a7a" opacity="0.55"/><rect x="792.7" y="410.6" width="1.3" height="1.3" fill="#7a7a7a" opacity="0.55"/><rect x="798.7" y="410.6" width="1.3" height="1.3" fill="#7a7a7a" opacity="0.55"/><rect x="819.4" y="410.6" width="1.3" height="1.3" fill="#7a7a7a" opacity="0.55"/><rect x="832.7" y="410.6" width="1.3" height="1.3" fill="#7a7a7a" opacity="0.55"/><rect x="838.7" y="410.6" width="1.3" height="1.3" fill="#7a7a7a" opacity="0.55"/><rect x="844.6" y="410.6" width="1.3" height="1.3" fill="#7a7a7a" opacity="0.55"/><rect x="850.5" y="410.6" width="1.3" height="1.3" fill="#7a7a7a" opacity="0.55"/><rect x="726.8" y="418.7" width="1.3" height="1.3" fill="#7a7a7a" opacity="0.55"/><rect x="735.0" y="418.7" width="1.3" height="1.3" fill="#7a7a7a" opacity="0.55"/><rect x="742.4" y="418.7" width="1.3" height="1.3" fill="#7a7a7a" opacity="0.55"/><rect x="751.3" y="418.7" width="2.2" height="1" fill="#7a7a7a" opacity="0.5"/><rect x="780.9" y="418.7" width="1.3" height="1.3" fill="#7a7a7a" opacity="0.55"/><rect x="788.3" y="418.7" width="1.3" height="1.3" fill="#7a7a7a" opacity="0.55"/><rect x="796.4" y="418.7" width="1.3" height="1.3" fill="#7a7a7a" opacity="0.55"/><rect x="805.3" y="418.7" width="1.3" height="1.3" fill="#7a7a7a" opacity="0.55"/><rect x="814.2" y="418.7" width="1.3" height="1.3" fill="#7a7a7a" opacity="0.55"/><rect x="819.4" y="418.7" width="1.3" height="1.3" fill="#7a7a7a" opacity="0.55"/><rect x="824.6" y="418.7" width="1.3" height="1.3" fill="#7a7a7a" opacity="0.55"/><rect x="832.7" y="418.7" width="1.3" height="1.3" fill="#7a7a7a" opacity="0.55"/><rect x="844.6" y="418.7" width="1.3" height="1.3" fill="#7a7a7a" opacity="0.55"/></g>
  <line x1="735" y1="245.8" x2="740" y2="245.8" stroke="#16a83c" stroke-width="2.9" stroke-linecap="round"/>
  <rect x="734" y="248" width="7.8" height="3" rx="1.2" fill="#ffec00"/>
</svg>

<div class="t" id="title" style="left:272px;top:35.3px;font-size:32.4px;color:#3d43c8"><span style="display:inline-block;width:69.2px;font-size:36px;transform:scaleX(0.935);transform-origin:0 0">UDP</span>协议控制播放器</div>

<div class="t" id="l1" style="left:15px;top:79px;font-size:14.3px">支持<span style="letter-spacing:0.5px">WIFI /LAN</span></div>
<div class="t" id="l2" style="left:12.5px;top:104px;font-size:14.3px">支持<span style="letter-spacing:0.6px">RS232/TTL232</span>输出</div>
<div class="t" id="l3" style="left:12px;top:126.5px;font-size:14.3px;letter-spacing:0.3px">支持按键触发控制</div>
<div class="t" id="l4" style="left:12px;top:148px;font-size:14.3px">支持USB键盘 控制</div>

<div class="t" id="b1" style="left:15.3px;top:379px;font-size:16px;color:#4f4fd0">随心所欲地展示</div>
<div class="t" id="b2" style="left:15.3px;top:406.5px;font-size:16px;color:#4f4fd0">高清4K解码输出</div>
<div class="t" id="b3" style="left:15.3px;top:434.5px;font-size:16px;color:#4f4fd0">支持视频，图片，MP3</div>

<div class="t" id="ip100" style="left:285px;top:179px;font-size:11px">192.168.1.100</div>
<div class="t" id="bx1" style="left:274px;top:200.5px;font-size:16px">UDP控制播放器</div>
<div class="t" id="ip110" style="left:500px;top:176px;font-size:11px">192.168.1.110</div>
<div class="t" id="bx2" style="left:494.5px;top:197px;font-size:16px">UDP控制播放器</div>
<div class="t" id="ip101" style="left:560.5px;top:297px;font-size:11px">192.168.1.101</div>
<div class="t" id="bx3" style="left:552.5px;top:317px;font-size:16px">UDP控制播放器</div>

<div class="t" id="udp1" style="left:369px;top:236px;font-size:10px;letter-spacing:-0.6px;color:#2a2a2a">UDP</div>
<div class="t" id="udp2" style="left:474px;top:241px;font-size:10px;letter-spacing:-0.6px;color:#2a2a2a">UDP</div>
<div class="t" id="udp3" style="left:496.5px;top:308.5px;font-size:10px;letter-spacing:-0.6px;color:#2a2a2a">UDP</div>

<div class="t" id="cmd1" style="left:270px;top:266.5px;font-size:10.5px;letter-spacing:-0.15px">UDP协议指令</div>
<div class="t" id="cmd2" style="left:370.5px;top:356.5px;font-size:10.5px;letter-spacing:-0.2px">UDP协议指令</div>

<div class="t" id="router" style="left:422.5px;top:278.5px;font-size:12px;font-weight:bold;color:#ee1c25;-webkit-text-stroke:0.2px #ee1c25">路由器</div>
<div class="t" id="pc" style="left:171px;top:280.5px;font-size:10px;font-weight:bold;color:#3c46d2;-webkit-text-stroke:0.3px #3c46d2">集成控制电脑</div>
<div class="t" id="ipad" style="left:287px;top:363.5px;font-size:10.4px;font-weight:bold;color:#22b040;-webkit-text-stroke:0.25px #22b040">IPAD及触控</div>

<div class="t sm" id="g1" style="left:166px;top:313px;font-size:7.5px;color:#2eb25c">192.168.1.110FPS06END</div>
<div class="t sm" id="r1" style="left:167px;top:331.5px;font-size:7.6px;color:#f04050">192.168.1.110机器播</div>
<div class="t sm" id="r2" style="left:166.5px;top:345px;font-size:7.6px;letter-spacing:-0.4px;color:#f04050">放06号目录的文件</div>

<div class="t sm" id="g2" style="left:276.5px;top:397px;font-size:7.5px;letter-spacing:0.1px;color:#2eb25c">192.168.1.110A0103END</div>
<div class="t sm" id="r3" style="left:278.5px;top:411.5px;font-size:7.6px;color:#f04050">播放器192.168.1.100,</div>
<div class="t sm" id="r4" style="left:278.5px;top:425px;font-size:7.6px;letter-spacing:-0.3px;color:#f04050">立即播放01目录下03</div>
<div class="t sm" id="r5" style="left:278.5px;top:437.5px;font-size:7.6px;letter-spacing:-0.8px;color:#f04050">号文件</div>

<div class="t" id="r232" style="left:616.5px;top:120.5px;font-size:10.5px;letter-spacing:-0.12px">R232控制投影机开关</div>
<div class="t" id="sel" style="left:616.5px;top:139.5px;font-size:10.5px;letter-spacing:-0.3px">及输入选择</div>

<div class="t" id="proj" style="left:783.5px;top:98px;font-size:14px">投影机</div>
<div class="t" id="btn1" style="left:852px;top:244px;font-size:16px"><span style="letter-spacing:0.95px">10/20</span>个按键触发</div>
<div class="t" id="btn2" style="left:851px;top:271.5px;font-size:16px">控制播放</div>
<div class="t" id="kb1" style="left:870px;top:374px;font-size:16px"><span style="letter-spacing:-0.7px">USB</span>无线键盘</div>
<div class="t" id="kb2" style="left:870px;top:401.5px;font-size:16px">控制播放</div>

</body></html>
